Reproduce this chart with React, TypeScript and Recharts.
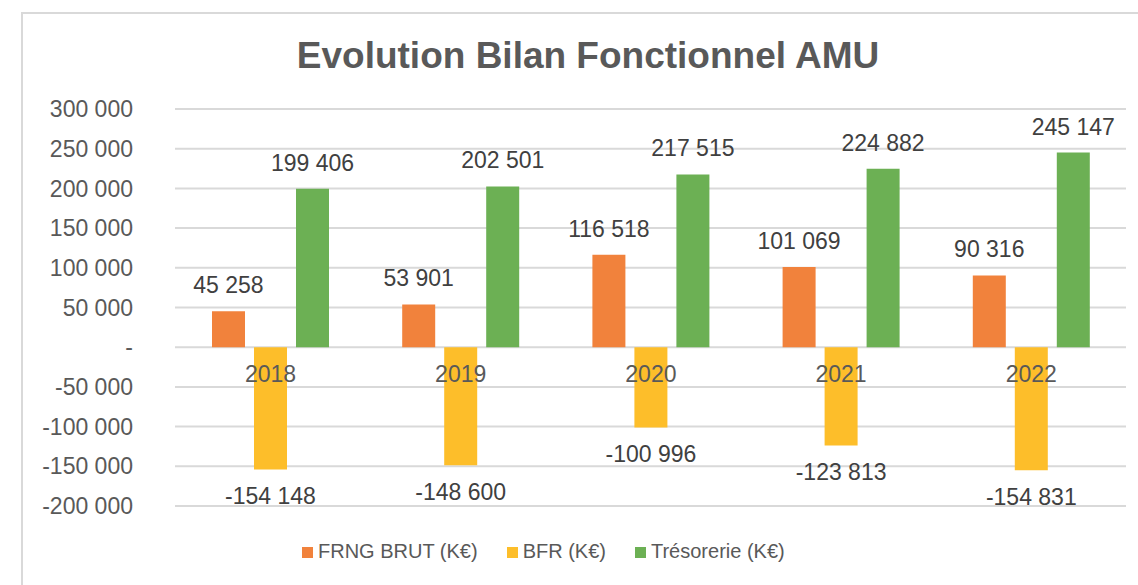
import React from "react";
import { BarChart, Bar, XAxis, YAxis, CartesianGrid, LabelList, Legend } from "recharts";

const years = ["2018", "2019", "2020", "2021", "2022"];
const frng = [45258, 53901, 116518, 101069, 90316];
const bfr = [-154148, -148600, -100996, -123813, -154831];
const tresorerie = [199406, 202501, 217515, 224882, 245147];
const yTicks = [-200000, -150000, -100000, -50000, 0, 50000, 100000, 150000, 200000, 250000, 300000];

const seriesNames = ["FRNG BRUT (K€)", "BFR (K€)", "Trésorerie (K€)"];
const colors = ["#F1823C", "#FDBE2A", "#6CB054"];

const data = years.map((y, i) => ({
  year: y,
  frng: frng[i],
  bfr: bfr[i],
  tres: tresorerie[i],
}));

const FONT = "'Liberation Sans', Arial, sans-serif";

const fmt = (v: number) => {
  if (v === 0) return "-";
  const s = Math.abs(Math.round(v)).toString().replace(/\B(?=(\d{3})+(?!\d))/g, " ");
  return (v < 0 ? "-" : "") + s;
};

const getBox = (props: any) => {
  const vb = props.viewBox || props;
  const x = Number(vb.x);
  const y = Number(vb.y);
  const w = Number(vb.width);
  const h = Number(vb.height);
  return { x, w, top: Math.min(y, y + h), bottom: Math.max(y, y + h) };
};

const ValueLabel = (props: any) => {
  const { x, w, top, bottom } = getBox(props);
  const v = Number(props.value);
  const cx = x + w / 2;
  const off = 18;
  if (v >= 0) {
    return (
      <text x={cx} y={top - off} textAnchor="middle" fill="#404040" fontSize={23} fontFamily={FONT}>
        {fmt(v)}
      </text>
    );
  }
  return (
    <text x={cx} y={bottom + off} dy="0.72em" textAnchor="middle" fill="#404040" fontSize={23} fontFamily={FONT}>
      {fmt(v)}
    </text>
  );
};

const CategoryLabel = (props: any) => {
  const { x, w, top } = getBox(props);
  return (
    <text x={x + w / 2} y={top + 35} textAnchor="middle" fill="#595959" fontSize={23} fontFamily={FONT}>
      {props.value}
    </text>
  );
};

const LegendContent = () => (
  <div style={{ display: "flex", alignItems: "baseline", fontFamily: FONT, fontSize: 20, color: "#595959", whiteSpace: "nowrap" }}>
    {seriesNames.map((n, i) => (
      <div key={n} style={{ display: "flex", alignItems: "baseline", marginRight: i < 2 ? 29 : 0 }}>
        <span style={{ display: "inline-block", width: 11, height: 11, background: colors[i], marginRight: 5 }} />
        <span>{n}</span>
      </div>
    ))}
  </div>
);

export default function App() {
  return (
    <div style={{ position: "absolute", left: 0, top: 0, width: 1138, height: 585, background: "#fff", overflow: "hidden" }}>
      <div
        style={{
          position: "absolute",
          left: 21,
          top: 12,
          width: 1200,
          height: 700,
          borderLeft: "2px solid #d9d9d9",
          borderTop: "2px solid #d9d9d9",
        }}
      />
      <div
        style={{
          position: "absolute",
          left: 0,
          width: 1176,
          top: 37,
          textAlign: "center",
          fontFamily: FONT,
          fontWeight: "bold",
          fontSize: 37,
          lineHeight: "37px",
          color: "#595959",
        }}
      >
        Evolution Bilan Fonctionnel AMU
      </div>
      <div style={{ position: "absolute", left: 0, top: 0 }}>
        <BarChart
          width={1138}
          height={585}
          data={data}
          margin={{ top: 109, right: 12, bottom: 79, left: 0 }}
          barSize={33}
          barGap={9}
        >
          <CartesianGrid vertical={false} stroke="#d9d9d9" strokeWidth={2} />
          <XAxis dataKey="year" hide />
          <YAxis
            width={175}
            domain={[-200000, 300000]}
            ticks={yTicks}
            tickFormatter={fmt}
            axisLine={false}
            tickLine={false}
            tickSize={0}
            tickMargin={42}
            tick={{ fill: "#595959", fontSize: 23, fontFamily: FONT }}
            interval={0}
          />
          <Legend
            layout="horizontal"
            verticalAlign="middle"
            align="center"
            wrapperStyle={{ left: 302, top: 540, width: 600 }}
            content={<LegendContent />}
          />
          <Bar dataKey="frng" name={seriesNames[0]} fill={colors[0]} isAnimationActive={false}>
            <LabelList dataKey="frng" content={ValueLabel} />
          </Bar>
          <Bar dataKey="bfr" name={seriesNames[1]} fill={colors[1]} isAnimationActive={false}>
            <LabelList dataKey="bfr" content={ValueLabel} />
            <LabelList dataKey="year" content={CategoryLabel} />
          </Bar>
          <Bar dataKey="tres" name={seriesNames[2]} fill={colors[2]} isAnimationActive={false}>
            <LabelList dataKey="tres" content={ValueLabel} />
          </Bar>
        </BarChart>
      </div>
    </div>
  );
}
